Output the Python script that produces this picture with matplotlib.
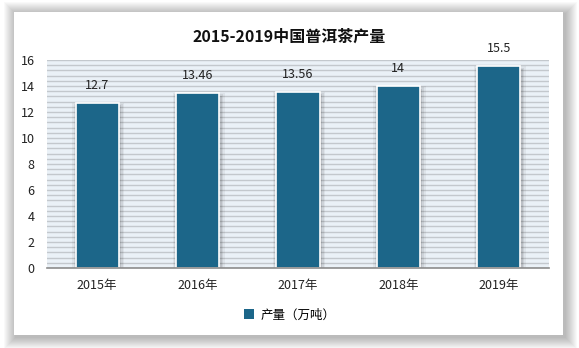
import numpy as np
import matplotlib.pyplot as plt
from matplotlib.patches import Rectangle, Patch

plt.rcParams['font.family'] = ['Noto Sans CJK SC', 'DejaVu Sans']

# Data
years = ['2015年', '2016年', '2017年', '2018年', '2019年']
output = [12.7, 13.46, 13.56, 14, 15.5]
value_labels = ['12.7', '13.46', '13.56', '14', '15.5']
y_ticks = [0, 2, 4, 6, 8, 10, 12, 14, 16]

bar_color = '#1c6689'

fig = plt.figure(figsize=(5.79, 3.48), dpi=100, facecolor='white')

# Card panel with a soft drop shadow all round
px, py, pw, ph = 14 / 579, 13 / 348, 549 / 579, 323 / 348
n_layers = 12
for i in range(n_layers):
    grow = (n_layers - i) * 1.0
    fig.patches.append(Rectangle((px - (grow - 2) / 579, py - (grow + 2) / 348),
                                 pw + 2 * grow / 579, ph + 2 * grow / 348,
                                 transform=fig.transFigure, facecolor='black',
                                 alpha=0.022, edgecolor='none', zorder=0))
fig.patches.append(Rectangle((px, py), pw, ph, transform=fig.transFigure,
                             facecolor='white', edgecolor='none', zorder=1))

ax = fig.add_axes([47 / 579, 80 / 348, 502 / 579, 208 / 348], zorder=2)
ax.set_facecolor('#eaf1f7')

x = np.arange(len(years))

# Striped background
ax.set_yticks(y_ticks)
ax.set_yticks(np.arange(0, 16.01, 0.4), minor=True)
ax.grid(which='both', axis='y', color='#c3c8cd', linewidth=1.0)
ax.set_axisbelow(True)

# Bar shadows
for i, a in enumerate([0.05, 0.07, 0.09]):
    w = 0.43 + (3 - i) * 0.03
    ax.bar(x + 0.01, [v + (3 - i) * 0.1 for v in output], width=w,
           bottom=-0.3, color='black', alpha=a, linewidth=0, zorder=2)

bars = ax.bar(x, output, width=0.43, color=bar_color, edgecolor='white',
              linewidth=1.2, zorder=3)

for b, lab in zip(bars, value_labels):
    ax.text(b.get_x() + b.get_width() / 2, b.get_height() + 0.85, lab,
            ha='center', va='bottom', fontsize=9, color='#222222', zorder=4)

ax.set_xlim(-0.5, len(years) - 0.5)
ax.set_ylim(0, 16)
ax.set_xticks(x)
ax.set_xticklabels(years, fontsize=9, color='#222222')
ax.tick_params(axis='y', which='both', length=0, labelsize=9, pad=9,
               labelcolor='#222222')
ax.tick_params(axis='x', length=0, pad=8)

for s in ['top', 'right', 'left']:
    ax.spines[s].set_visible(False)
ax.spines['bottom'].set_color('#8c8c8c')
ax.spines['bottom'].set_linewidth(1.2)
ax.spines['bottom'].set_zorder(5)

fig.text(0.5, 1 - 37 / 348, '2015-2019中国普洱茶产量', ha='center', va='center',
         fontsize=11.5, fontweight='bold', color='#111111', zorder=3)

fig.legend(handles=[Patch(facecolor=bar_color, label='产量（万吨）')],
           loc='center', bbox_to_anchor=(0.5, 1 - 315 / 348), frameon=False,
           fontsize=9, handlelength=0.8, handleheight=0.8, handletextpad=0.5)

fig.savefig('out.png', dpi=100, facecolor='white')
